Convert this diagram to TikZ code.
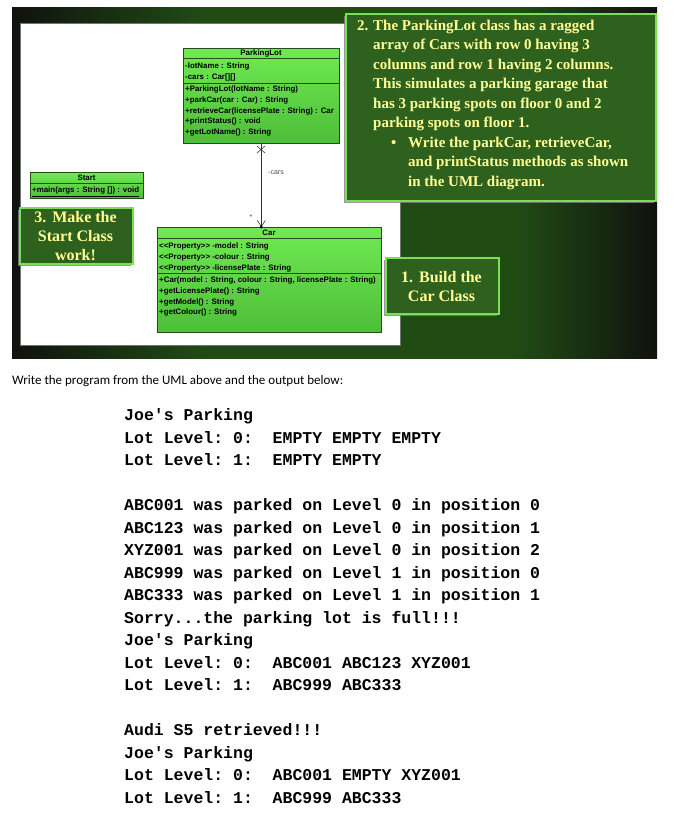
\documentclass[tikz,border=0pt]{standalone}
\usepackage{fontspec}
\setmainfont{Liberation Serif}
\newfontfamily\umlfont[Ligatures=TeXOff]{Liberation Sans}
\newfontfamily\notefont{Liberation Serif}
\newfontfamily\consolefont[Ligatures=TeXOff,WordSpace={1,0,0},PunctuationSpace=WordSpace]{Liberation Mono}
\newfontfamily\bodyfont{Carlito}
\usetikzlibrary{%
    arrows.meta,%
    shadows,%
    positioning%
}
\definecolor{slidedark}{RGB}{16,18,14}
\definecolor{slidegreen}{RGB}{32,76,20}
\definecolor{noteback}{RGB}{46,96,30}
\definecolor{noteedge}{RGB}{122,222,86}
\definecolor{notetext}{RGB}{255,255,150}
\definecolor{umlhi}{RGB}{112,234,82}
\definecolor{umllo}{RGB}{78,190,58}
\definecolor{umledge}{RGB}{38,78,28}
\pgfdeclarehorizontalshading{slideshade}{100bp}{%
    color(0bp)=(slidedark); color(25bp)=(slidedark);
    color(40bp)=(slidegreen); color(64bp)=(slidegreen);
    color(75bp)=(slidedark); color(100bp)=(slidedark)}

\begin{document}
\begin{tikzpicture}[x=1pt,y=-1pt,
	umlbox/.style={draw=umledge, line width=0.6pt, top color=umlhi, bottom color=umllo, inner sep=0pt, anchor=north west},
	umltitle/.style={anchor=base, inner sep=0pt, font=\umlfont\bfseries\fontsize{7.9}{10.7}\selectfont},
	umltext/.style={anchor=north west, inner sep=0pt, align=left, font=\umlfont\bfseries\fontsize{7.9}{10.7}\selectfont},
	notebox/.style={fill=noteback, draw=noteedge, line width=1.6pt, anchor=north west, inner sep=0pt,
		drop shadow={shadow xshift=-1.5pt, shadow yshift=-2.5pt, opacity=0.8}},
	notetext/.style={text=notetext, inner sep=0pt, font=\notefont\bfseries\fontsize{16}{19}\selectfont},
	]
	\useasboundingbox (0,0) rectangle (674,821);
	\fill[white] (0,0) rectangle (674,821);

	% slide background and white panel
	\shade[shading=slideshade] (12,8) rectangle (657,358);
	\draw[fill=white, draw=black!55, thin] (20,23) rectangle (400,345);

	% ParkingLot class
	\node[umlbox, minimum width=156pt, minimum height=95pt] (lot) at (183,48) {};
	\draw[umledge, line width=0.6pt] (183,58) -- (339,58);
	\draw[umledge, line width=0.6pt] (183,83) -- (339,83);
	\node[umltitle] (lotTitle) at (261,55.8) {ParkingLot};
	\node[umltext] (lotAttrs) at (185,61) {\strut-lotName : String\\-cars : Car[][]};
	\node[umltext] (lotOps) at (185,84) {\strut+ParkingLot(lotName : String)\\+parkCar(car : Car) : String\\+retrieveCar(licensePlate : String) : Car\\+printStatus() : void\\+getLotName() : String};

	% Start class
	\node[umlbox, minimum width=113pt, minimum height=26pt] (start) at (30,172) {};
	\draw[umledge, line width=0.6pt] (30,183) -- (143,183);
	\node[umltitle] (startTitle) at (86.5,180.3) {Start};
	\node[umltext] (startOps) at (32,185) {\strut\underline{+main(args : String []) : void}};

	% Car class
	\node[umlbox, minimum width=224pt, minimum height=105pt] (car) at (157,227) {};
	\draw[umledge, line width=0.6pt] (157,238) -- (381,238);
	\draw[umledge, line width=0.6pt] (157,273) -- (381,273);
	\node[umltitle] (carTitle) at (269,235.3) {Car};
	\node[umltext] (carAttrs) at (159,241) {\strut<<Property>> -model : String\\<<Property>> -colour : String\\<<Property>> -licensePlate : String};
	\node[umltext] (carOps) at (159,275) {\strut+Car(model : String, colour : String, licensePlate : String)\\+getLicensePlate() : String\\+getModel() : String\\+getColour() : String};

	% association ParkingLot -> Car
	\draw[black!80, line width=0.6pt, -{Straight Barb[length=6pt, width=8pt]}] (lot.south) -- (lot.south |- car.north);
	\draw[black!80, line width=0.6pt] (257,146) -- (265,153) (265,146) -- (257,153);
	\fill[black] (lot.south |- car.north) circle (1.6pt);
	\node[anchor=west, inner sep=0pt, text=black!70, font=\umlfont\fontsize{7}{8}\selectfont] (carsRole) at (268,173) {-cars};
	\node[inner sep=0pt, text=black!70, font=\umlfont\fontsize{7}{8}\selectfont] (carsMult) at (251,217) {*};

	% callouts
	\node[notebox, minimum width=310pt, minimum height=187pt] (noteTwo) at (345,13) {};
	\node[notetext, anchor=north west, align=left, font=\notefont\bfseries\fontsize{15}{19.5}\selectfont] (noteTwoText) at (357,16.35)
		{\strut\makebox[16pt][l]{2.}The ParkingLot class has a ragged\\
		\hspace*{16pt}array of Cars with row 0 having 3\\
		\hspace*{16pt}columns and row 1 having 2 columns.\\
		\hspace*{16pt}This simulates a parking garage that\\
		\hspace*{16pt}has 3 parking spots on floor 0 and 2\\
		\hspace*{16pt}parking spots on floor 1.\\
		\hspace*{34pt}\makebox[17pt][l]{\textbullet}Write the parkCar, retrieveCar,\\
		\hspace*{51pt}and printStatus methods as shown\\
		\hspace*{51pt}in the UML diagram.};

	\node[notebox, minimum width=113pt, minimum height=56pt] (noteThree) at (19,207) {};
	\node[notetext, anchor=north, align=center] (noteThreeText) at (75.5,209.2)
		{\strut 3.\hspace{6pt}Make the\\Start Class\\work!};

	\node[notebox, minimum width=113pt, minimum height=56pt] (noteOne) at (385,257) {};
	\node[notetext, anchor=north, align=center] (noteOneText) at (441.5,268.7)
		{\strut 1.\hspace{6pt}Build the\\Car Class};

	% text below the slide
	\node[anchor=west, inner sep=0pt, font=\bodyfont\fontsize{13}{15}\selectfont] (intro) at (12,381)
		{Write the program from the UML above and the output below:};

	\node[anchor=north west, inner sep=0pt, align=left, font=\consolefont\bfseries\fontsize{16.5}{22.5}\selectfont] (console) at (124,404.75)
		{\strut Joe's Parking\\
		Lot Level: 0:\ \ EMPTY EMPTY EMPTY\\
		Lot Level: 1:\ \ EMPTY EMPTY\\[22.5pt]
		ABC001 was parked on Level 0 in position 0\\
		ABC123 was parked on Level 0 in position 1\\
		XYZ001 was parked on Level 0 in position 2\\
		ABC999 was parked on Level 1 in position 0\\
		ABC333 was parked on Level 1 in position 1\\
		Sorry...the parking lot is full!!!\\
		Joe's Parking\\
		Lot Level: 0:\ \ ABC001 ABC123 XYZ001\\
		Lot Level: 1:\ \ ABC999 ABC333\\[22.5pt]
		Audi S5 retrieved!!!\\
		Joe's Parking\\
		Lot Level: 0:\ \ ABC001 EMPTY XYZ001\\
		Lot Level: 1:\ \ ABC999 ABC333};
\end{tikzpicture}
\end{document}
